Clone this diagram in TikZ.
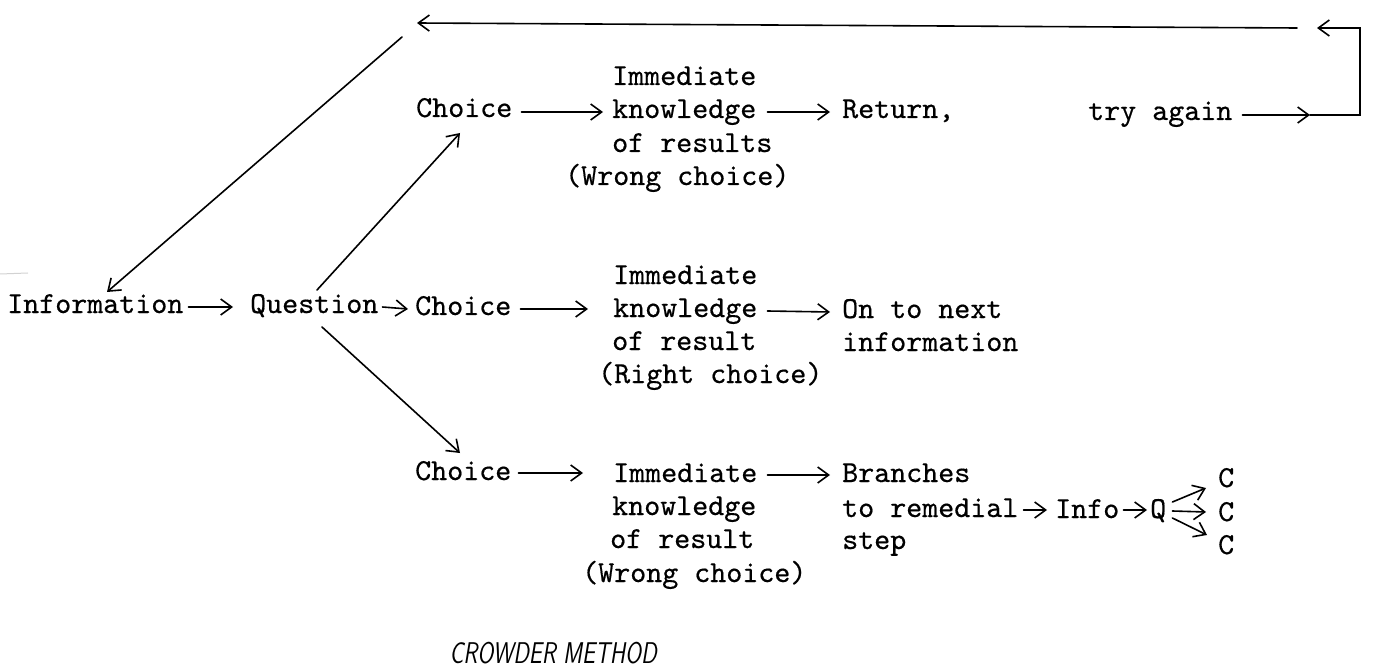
\documentclass[tikz,border=0pt]{standalone}
\usepackage{fontspec}
\newfontfamily\typewriter{lmmono10-regular.otf}[FakeBold=0.5]
\usetikzlibrary{arrows.meta}
\begin{document}
\begin{tikzpicture}[x=1pt,y=-1pt,
  txt/.style={anchor=base west, inner sep=0pt, font=\typewriter\fontsize{30.5}{33}\selectfont},
  arr/.style={-{Straight Barb[length=11pt,width=16pt,line width=1.6pt]}, line width=1.6pt, line cap=round},
  ln/.style={line width=1.6pt, line cap=round}]
\useasboundingbox (0,0) rectangle (1373,668);

% main line of the frame sequence
\node[txt] (info)  at (7,313)   {Information};
\node[txt] (quest) at (250,313) {Question};

% upper branch: wrong choice, return
\node[txt] (ch1) at (416,117) {Choice};
\node[txt] (imA) at (612,85)  {Immediate};
\node[txt] (knA) at (612,118) {knowledge};
\node[txt] (ofA) at (612,152) {of results};
\node[txt] (wcA) at (565,185) {(Wrong choice)};
\node[txt] (ret) at (842,118) {Return,};
\node[txt] (try) at (1088,120) {try again};

% middle branch: right choice
\node[txt] (ch2) at (415,315) {Choice};
\node[txt] (imB) at (613,284) {Immediate};
\node[txt] (knB) at (613,317) {knowledge};
\node[txt] (ofB) at (612,350) {of result};
\node[txt] (rcB) at (598,383) {(Right choice)};
\node[txt] (nx1) at (842,318) {On to next};
\node[txt] (nx2) at (842,351) {information};

% lower branch: wrong choice, remedial step
\node[txt] (ch3) at (415,480) {Choice};
\node[txt] (imC) at (613,482) {Immediate};
\node[txt] (knC) at (612,515) {knowledge};
\node[txt] (ofC) at (610,548) {of result};
\node[txt] (wcC) at (582,582) {(Wrong choice)};
\node[txt] (br1) at (842,482) {Branches};
\node[txt] (br2) at (842,517) {to remedial};
\node[txt] (br3) at (842,549) {step};
\node[txt] (inf) at (1055,518) {Info};
\node[txt] (q)   at (1150,518) {Q};
\node[txt] (c1)  at (1218,487) {C};
\node[txt] (c2)  at (1218,521) {C};
\node[txt] (c3)  at (1218,554) {C};

% caption
\node[anchor=base east, inner sep=0pt, font=\sffamily\itshape\fontsize{30}{30}\selectfont]
  (cap) at (657,663) {\scalebox{0.77}[1]{CROWDER METHOD}};

% return loop coordinates
\coordinate (ta)  at (1310,115);
\coordinate (rc)  at (1360,115);
\coordinate (rt)  at (1317,28);
\coordinate (lr)  at (1297,28);
\coordinate (ll)  at (417,23);
\coordinate (fb)  at (402,37);

% horizontal connectors
\draw[arr] ([xshift=5pt,yshift=6pt]info.base east)  -- ([xshift=-17pt,yshift=6pt]quest.base west);
\draw[arr] ([xshift=4pt,yshift=6pt]quest.base east) -- ([xshift=-7pt,yshift=6pt]ch2.base west);
\draw[arr] ([xshift=9pt,yshift=5pt]ch1.base east)   -- ([xshift=-9pt,yshift=6pt]knA.base west);
\draw[arr] ([xshift=11pt,yshift=6pt]knA.base east)  -- ([xshift=-12pt,yshift=6pt]ret.base west);
\draw[arr] ([xshift=9pt,yshift=6pt]ch2.base east)   -- ([xshift=-25pt,yshift=8pt]knB.base west);
\draw[arr] ([xshift=10pt,yshift=6pt]knB.base east)  -- ([xshift=-12pt,yshift=6pt]nx1.base west);
\draw[arr] ([xshift=7pt,yshift=7pt]ch3.base east)   -- ([xshift=-30pt,yshift=9pt]imC.base west);
\draw[arr] ([xshift=10pt,yshift=7pt]imC.base east)  -- ([xshift=-12pt,yshift=7pt]br1.base west);
\draw[arr] ([xshift=5pt,yshift=7pt]br2.base east)   -- ([xshift=-8pt,yshift=8pt]inf.base west);
\draw[arr] ([xshift=4pt,yshift=8pt]inf.base east)   -- ([xshift=-3pt,yshift=8pt]q.base west);

% Q fans out to three choices
\draw[arr] ([xshift=6pt,yshift=16pt]q.base east) -- ([xshift=-12pt,yshift=-1pt]c1.base west);
\draw[arr] ([xshift=6pt,yshift=7pt]q.base east)  -- ([xshift=-12pt,yshift=9pt]c2.base west);
\draw[arr] ([xshift=6pt,yshift=0pt]q.base east)  -- ([xshift=-11pt,yshift=19pt]c3.base west);

% diagonal branches from the question
\draw[arr] ([xshift=67pt,yshift=23pt]quest.base west) -- ([xshift=44pt,yshift=-16pt]ch1.base west);
\draw[arr] ([xshift=72pt,yshift=-14pt]quest.base west) -- ([xshift=45pt,yshift=27pt]ch3.base west);

% try again: loop back to the information
\draw[arr] ([xshift=10pt,yshift=5pt]try.base east) -- (ta);
\draw[arr] (ta) -- (rc) |- (rt);
\draw[arr] (lr) -- (ll);
\draw[arr] (fb) -- ([xshift=100pt,yshift=21pt]info.base west);

% faint mark at the left edge
\draw[gray!35, line width=1pt] (0,274) -- (28,273);
\end{tikzpicture}
\end{document}
